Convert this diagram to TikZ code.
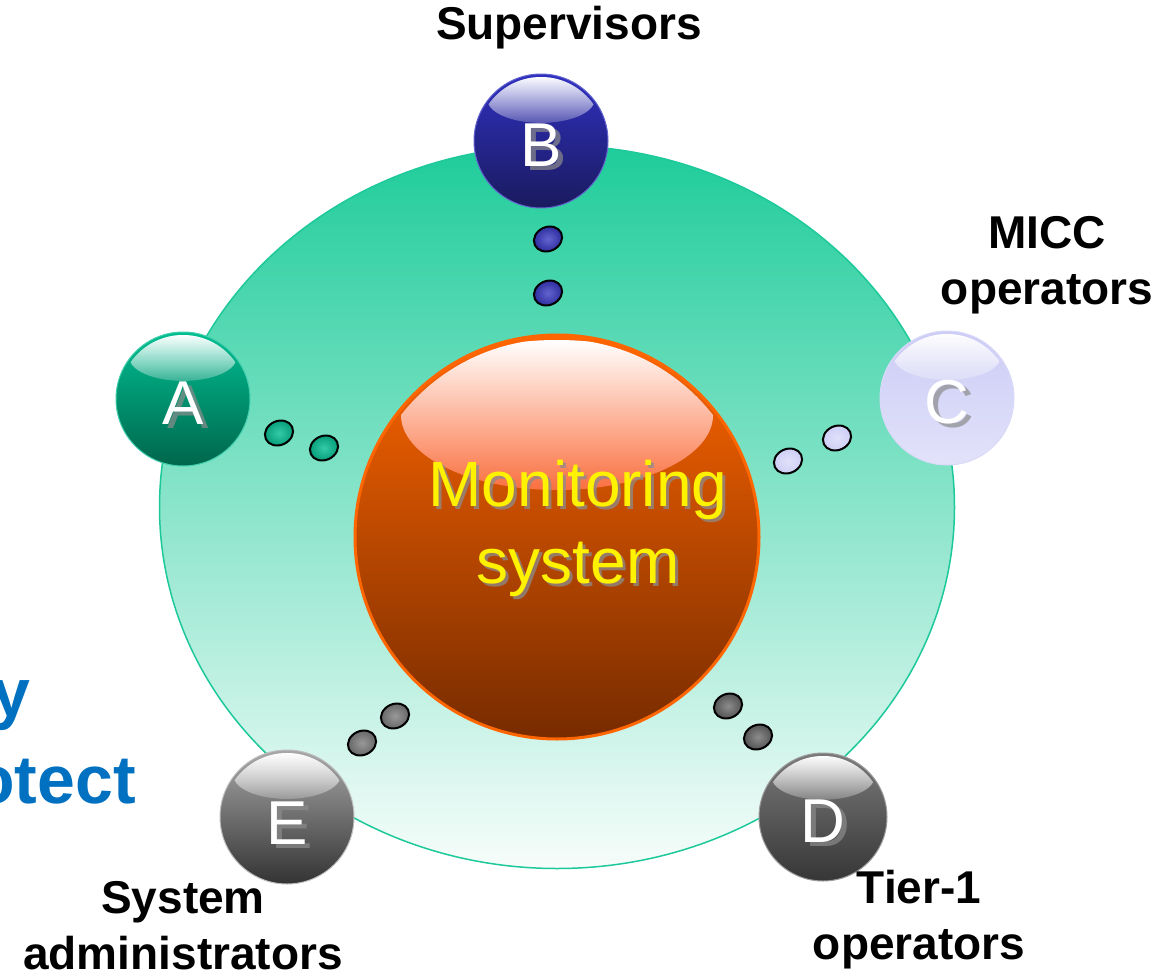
\documentclass[tikz,border=0pt]{standalone}
\usepackage{fontspec}
\setmainfont{Liberation Sans}
\usetikzlibrary{shapes.geometric,calc,fadings}
\definecolor{ringtop}{HTML}{1ECC9A}
\definecolor{ringbot}{HTML}{F7FDFB}
\definecolor{ringline}{HTML}{1DC99A}
\definecolor{orgtop}{HTML}{FF6600}
\definecolor{orgbot}{HTML}{772B00}
\definecolor{orghl}{HTML}{FF7448}
\definecolor{bluetop}{HTML}{3030C0}
\definecolor{bluebot}{HTML}{1A1A5E}
\definecolor{greentop}{HTML}{00BE92}
\definecolor{greenbot}{HTML}{00664C}
\definecolor{lavtop}{HTML}{CCCCF6}
\definecolor{lavbot}{HTML}{E2E2FA}
\definecolor{dgraytop}{HTML}{7A7A7A}
\definecolor{dgraybot}{HTML}{363636}
\definecolor{lgraytop}{HTML}{A8A8A8}
\definecolor{lgraybot}{HTML}{333333}
\definecolor{titleblue}{HTML}{0070C0}
\newcommand\glossy[6]{%
  \node[circle,inner sep=0pt,minimum size=#3*2pt,top color=#5,bottom color=#6,draw=#5!75!white,line width=1pt] (#4) at (#1,#2) {};
  \begin{scope}
    \clip (#1,#2) circle[radius=#3-3];
    \fill[white,opacity=0.22] (#1,#2-0.62*#3) ellipse[x radius=0.8*#3,y radius=0.35*#3];
    \fill[white,path fading=south] (#1,#2-0.62*#3) ellipse[x radius=0.8*#3,y radius=0.35*#3];
  \end{scope}
}
\tikzset{
  dotbase/.style={ellipse,inner sep=0pt,minimum width=29pt,minimum height=24pt,draw=black,line width=2pt,rotate=25},
  lbl/.style={font=\bfseries\fontsize{46}{56}\selectfont,align=center,text=black},
  letter/.style={font=\fontsize{62}{62}\selectfont,text=white,inner sep=0pt},
  lshadow/.style={font=\fontsize{62}{62}\selectfont,text=black!45,inner sep=0pt,opacity=0.7},
  bluetxt/.style={font=\bfseries\fontsize{68}{68}\selectfont,text=titleblue,anchor=base east,inner sep=0pt},
}
\begin{document}
\begin{tikzpicture}[x=1pt,y=-1pt]
\useasboundingbox (0,0) rectangle (1173,977);
% outer ring
\node[ellipse,inner sep=0pt,minimum width=795pt,minimum height=723pt,top color=ringtop,bottom color=ringbot,draw=ringline,line width=1.5pt] (ring) at (557,507) {};
% central sphere
\node[circle,inner sep=0pt,minimum size=404pt,top color=orgtop,bottom color=orgbot,draw=orgtop,line width=3pt] (mon) at (557,537) {};
\begin{scope}
  \clip (557,537) circle[radius=198];
  \fill[orghl,opacity=0.9] (557,415) ellipse[x radius=156,y radius=75];
  \fill[white,path fading=south] (557,415) ellipse[x radius=156,y radius=75];
\end{scope}
\node[font=\fontsize{64}{77}\selectfont,text=black!45,align=center,opacity=0.75] (monsh) at (581,531) {Monitoring\\system};
\node[font=\fontsize{64}{77}\selectfont,text=yellow,align=center] (montext) at (578,528) {Monitoring\\system};
% spheres
\glossy{541}{141}{67}{B}{bluetop}{bluebot}
\glossy{183}{399}{67}{A}{greentop}{greenbot}
\glossy{947}{398}{67}{C}{lavtop}{lavbot}
\glossy{823}{817}{64}{D}{dgraytop}{dgraybot}
\glossy{287}{817}{67}{E}{lgraytop}{lgraybot}
% letters
\node[lshadow] (Bs) at ($(B)+(5,8)$) {B};
\node[letter] (Bl) at ($(B)+(0,4)$) {B};
\node[lshadow] (As) at ($(A)+(5,8)$) {A};
\node[letter] (Al) at ($(A)+(0,4)$) {A};
\node[lshadow] (Cs) at ($(C)+(5,8)$) {C};
\node[letter] (Cl) at ($(C)+(0,4)$) {C};
\node[lshadow] (Ds) at ($(D)+(5,8)$) {D};
\node[letter] (Dl) at ($(D)+(0,4)$) {D};
\node[lshadow] (Es) at ($(E)+(5,10)$) {E};
\node[letter] (El) at ($(E)+(0,6)$) {E};
% dots
\node[dotbase,inner color=bluetop!75!white,outer color=bluetop!80!black] (b1) at (548,239) {};
\node[dotbase,inner color=bluetop!75!white,outer color=bluetop!80!black] (b2) at (548,293) {};
\node[dotbase,inner color=greentop!80!white,outer color=greentop!80!black] (a1) at (279,433) {};
\node[dotbase,inner color=greentop!80!white,outer color=greentop!80!black] (a2) at (324,448) {};
\node[dotbase,inner color=lavtop!60!white,outer color=lavtop] (c1) at (788,461) {};
\node[dotbase,inner color=lavtop!60!white,outer color=lavtop] (c2) at (837,438) {};
\node[dotbase,inner color=black!45,outer color=black!70] (d1) at (728,706) {};
\node[dotbase,inner color=black!45,outer color=black!70] (d2) at (758,737) {};
\node[dotbase,inner color=black!40,outer color=black!62] (e1) at (362,743) {};
\node[dotbase,inner color=black!40,outer color=black!62] (e2) at (395,716) {};
% labels
\node[lbl] (lB) at (569,28) {Supervisors};
\node[lbl] (lC) at (1047,265) {MICC\\operators};
\node[lbl] (lD) at (919,920) {Tier-1\\operators};
\node[lbl] (lE) at (183,926) {System\\administrators};
% clipped blue text at left
\node[bluetxt] (ty) at (31,716) {y};
\node[bluetxt] (tp) at (136,803) {otect};
\end{tikzpicture}
\end{document}
